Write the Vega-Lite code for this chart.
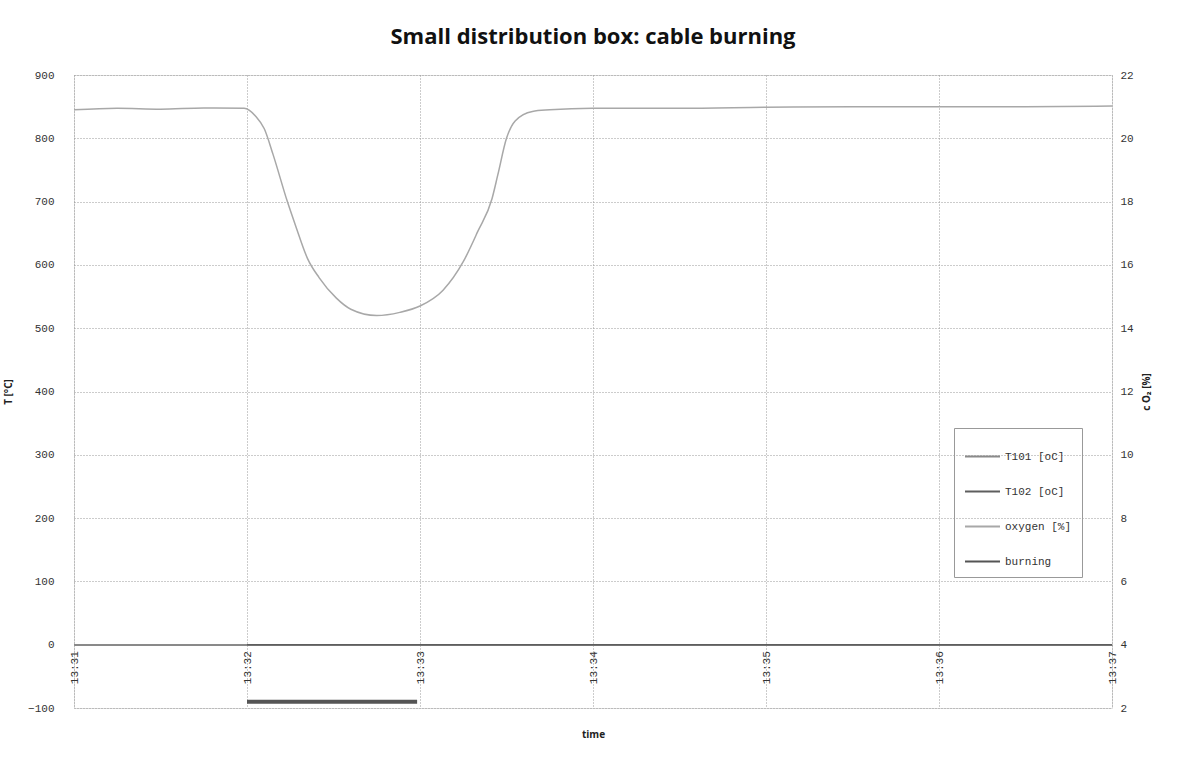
{
  "$schema": "https://vega.github.io/schema/vega-lite/v6.json",
  "padding": {"left": 3, "top": 26, "right": 5, "bottom": 5},
  "width": 1038,
  "height": 633,
  "title": {"text": "Small distribution box: cable burning", "font": "Open Sans", "fontSize": 22, "fontWeight": "bold", "color": "#111", "anchor": "middle", "offset": 20},
  "datasets": {
    "temps": [
      {"t": "2000-01-01T13:31:00", "series": "T101 [oC]", "v": 0},
      {"t": "2000-01-01T13:32:00", "series": "T101 [oC]", "v": 0},
      {"t": "2000-01-01T13:33:00", "series": "T101 [oC]", "v": 0},
      {"t": "2000-01-01T13:34:00", "series": "T101 [oC]", "v": 0},
      {"t": "2000-01-01T13:35:00", "series": "T101 [oC]", "v": 0},
      {"t": "2000-01-01T13:36:00", "series": "T101 [oC]", "v": 0},
      {"t": "2000-01-01T13:37:00", "series": "T101 [oC]", "v": 0},
      {"t": "2000-01-01T13:32:00", "series": "T102 [oC]", "v": 0},
      {"t": "2000-01-01T13:33:00", "series": "T102 [oC]", "v": 0},
      {"t": "2000-01-01T13:34:00", "series": "T102 [oC]", "v": 0},
      {"t": "2000-01-01T13:35:00", "series": "T102 [oC]", "v": 0},
      {"t": "2000-01-01T13:36:00", "series": "T102 [oC]", "v": 0},
      {"t": "2000-01-01T13:37:00", "series": "T102 [oC]", "v": 0}
    ],
    "burning": [
      {"t": "2000-01-01T13:32:00", "series": "burning", "v": -90},
      {"t": "2000-01-01T13:32:30", "series": "burning", "v": -90},
      {"t": "2000-01-01T13:32:59", "series": "burning", "v": -90}
    ],
    "oxygen": [
      {"t": "2000-01-01T13:31:00", "series": "oxygen [%]", "o": 20.9},
      {"t": "2000-01-01T13:31:15", "series": "oxygen [%]", "o": 20.95},
      {"t": "2000-01-01T13:31:30", "series": "oxygen [%]", "o": 20.92},
      {"t": "2000-01-01T13:31:45", "series": "oxygen [%]", "o": 20.96},
      {"t": "2000-01-01T13:31:59", "series": "oxygen [%]", "o": 20.95},
      {"t": "2000-01-01T13:32:03", "series": "oxygen [%]", "o": 20.7},
      {"t": "2000-01-01T13:32:06", "series": "oxygen [%]", "o": 20.3},
      {"t": "2000-01-01T13:32:09", "series": "oxygen [%]", "o": 19.5},
      {"t": "2000-01-01T13:32:14", "series": "oxygen [%]", "o": 18.0},
      {"t": "2000-01-01T13:32:17", "series": "oxygen [%]", "o": 17.2},
      {"t": "2000-01-01T13:32:21", "series": "oxygen [%]", "o": 16.2},
      {"t": "2000-01-01T13:32:25", "series": "oxygen [%]", "o": 15.6},
      {"t": "2000-01-01T13:32:31", "series": "oxygen [%]", "o": 14.95},
      {"t": "2000-01-01T13:32:36", "series": "oxygen [%]", "o": 14.6},
      {"t": "2000-01-01T13:32:45", "series": "oxygen [%]", "o": 14.4},
      {"t": "2000-01-01T13:32:53", "series": "oxygen [%]", "o": 14.5},
      {"t": "2000-01-01T13:33:00", "series": "oxygen [%]", "o": 14.7},
      {"t": "2000-01-01T13:33:08", "series": "oxygen [%]", "o": 15.2},
      {"t": "2000-01-01T13:33:15", "series": "oxygen [%]", "o": 16.1},
      {"t": "2000-01-01T13:33:20", "series": "oxygen [%]", "o": 17.05},
      {"t": "2000-01-01T13:33:25", "series": "oxygen [%]", "o": 18.1},
      {"t": "2000-01-01T13:33:27", "series": "oxygen [%]", "o": 18.85},
      {"t": "2000-01-01T13:33:30", "series": "oxygen [%]", "o": 20.0},
      {"t": "2000-01-01T13:33:33", "series": "oxygen [%]", "o": 20.55},
      {"t": "2000-01-01T13:33:39", "series": "oxygen [%]", "o": 20.85},
      {"t": "2000-01-01T13:33:45", "series": "oxygen [%]", "o": 20.9},
      {"t": "2000-01-01T13:34:00", "series": "oxygen [%]", "o": 20.95},
      {"t": "2000-01-01T13:34:30", "series": "oxygen [%]", "o": 20.95},
      {"t": "2000-01-01T13:35:00", "series": "oxygen [%]", "o": 20.98},
      {"t": "2000-01-01T13:35:30", "series": "oxygen [%]", "o": 21.0},
      {"t": "2000-01-01T13:36:00", "series": "oxygen [%]", "o": 21.0},
      {"t": "2000-01-01T13:36:30", "series": "oxygen [%]", "o": 21.0},
      {"t": "2000-01-01T13:37:00", "series": "oxygen [%]", "o": 21.02}
    ]
  },
  "encoding": {
    "x": {
      "field": "t", "type": "temporal",
      "axis": {
        "title": "time", "format": "%H:%M", "tickCount": 6,
        "labelAngle": -90, "offset": -63.3, "domainColor": "#888", "domainWidth": 1.5,
        "ticks": false, "labelPadding": 6, "gridColor": "#999", "gridDash": [1, 2],
        "labelFont": "Liberation Mono", "labelFontSize": 11, "labelColor": "#333",
        "titleFont": "Open Sans", "titleFontSize": 10, "titleColor": "#222", "titlePadding": 46
      }
    },
    "color": {
      "field": "series", "type": "nominal",
      "scale": {"domain": ["T101 [oC]", "T102 [oC]", "oxygen [%]", "burning"], "range": ["#8a8a8a", "#5e5e5e", "#a8a8a8", "#555555"]},
      "legend": {
        "title": null, "orient": "none", "legendX": 880, "legendY": 353, "symbolType": "stroke", "symbolSize": 1225,
        "symbolStrokeWidth": 2, "rowPadding": 11, "padding": 10, "strokeColor": "#999",
        "labelFont": "Liberation Mono", "labelFontSize": 11, "labelColor": "#333"
      }
    }
  },
  "layer": [
    {
      "layer": [
        {
          "data": {"name": "temps"},
          "mark": {"type": "line", "strokeWidth": 1.5},
          "encoding": {
            "y": {
              "field": "v", "type": "quantitative",
              "scale": {"domain": [-100, 900], "nice": false},
              "axis": {"title": "T [°C]", "tickCount": 10, "domain": false, "ticks": false, "labelPadding": 20, "gridColor": "#999", "gridDash": [1, 2], "titlePadding": 14,
                "labelFont": "Liberation Mono", "labelFontSize": 11, "labelColor": "#333", "titleFont": "Open Sans", "titleFontSize": 10, "titleColor": "#222"}
            }
          }
        },
        {
          "data": {"name": "burning"},
          "mark": {"type": "line", "strokeWidth": 4},
          "encoding": {
            "y": {"field": "v", "type": "quantitative"}
          }
        }
      ]
    },
    {
      "data": {"name": "oxygen"},
      "mark": {"type": "line", "strokeWidth": 1.5, "interpolate": "monotone"},
      "encoding": {
        "y": {
          "field": "o", "type": "quantitative",
          "scale": {"domain": [2, 22], "nice": false},
          "axis": {"title": "c O₂ [%]", "orient": "right", "tickCount": 10, "domain": false, "ticks": false, "labelPadding": 8, "grid": false, "titlePadding": 18, "titleAngle": 270,
            "labelFont": "Liberation Mono", "labelFontSize": 11, "labelColor": "#333", "titleFont": "Open Sans", "titleFontSize": 10, "titleColor": "#222"}
        }
      }
    }
  ],
  "resolve": {"scale": {"y": "independent"}}
}
